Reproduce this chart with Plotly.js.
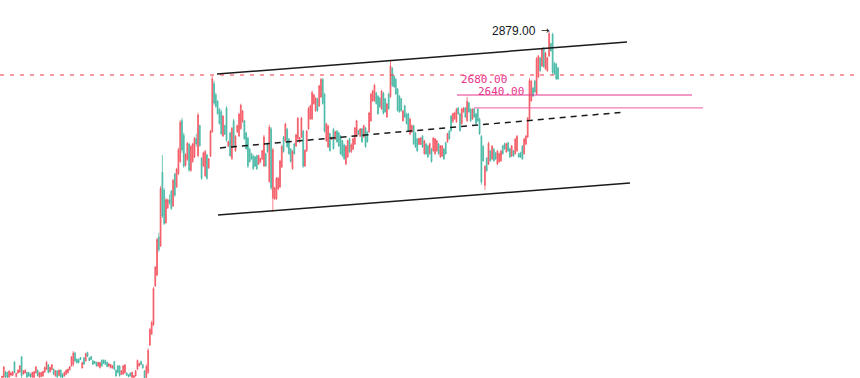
<!DOCTYPE html>
<html>
<head>
<meta charset="utf-8">
<script src="https://cdn.plot.ly/plotly-3.0.1.min.js"></script>
<style>html,body{margin:0;padding:0;background:#fff;}#chart{width:860px;height:378px;}</style>
</head>
<body>
<div id="chart"></div>
<script>
const open = [1804,1806,1822,1820,1806,1812,1811,1852,1807,1818,1822,1868,1815,1818,1820,1820,1815,1806,1805,1819,1827,1806,1807,1809,1821,1830,1843,1822,1829,1830,1809,1825,1811,1827,1815,1809,1814,1819,1828,1841,1845,1880,1861,1860,1866,1834,1865,1856,1882,1865,1869,1856,1854,1851,1840,1835,1858,1858,1857,1851,1840,1834,1834,1853,1827,1840,1840,1814,1815,1819,1818,1812,1818,1805,1804,1809,1830,1840,1854,1844,1825,1805,1820,1905,1940,1968,2088,2122,2240,2212,2440,2385,2284,2330,2355,2382,2336,2435,2395,2436,2474,2600,2555,2462,2480,2528,2446,2474,2488,2545,2492,2585,2484,2460,2430,2494,2454,2490,2566,2715,2680,2660,2635,2628,2553,2585,2640,2521,2562,2483,2600,2507,2565,2553,2576,2597,2600,2562,2546,2512,2498,2490,2488,2492,2466,2472,2482,2460,2498,2528,2412,2575,2360,2358,2358,2389,2395,2457,2550,2538,2574,2543,2512,2452,2528,2522,2545,2534,2550,2568,2460,2507,2575,2606,2606,2653,2631,2668,2646,2674,2728,2682,2538,2519,2560,2542,2574,2543,2568,2562,2552,2538,2525,2466,2488,2544,2505,2512,2528,2553,2570,2552,2575,2550,2578,2565,2566,2600,2662,2662,2686,2676,2670,2637,2686,2668,2612,2683,2675,2762,2738,2728,2698,2676,2668,2600,2646,2621,2621,2559,2565,2584,2562,2544,2527,2527,2552,2498,2528,2522,2498,2512,2507,2498,2507,2528,2488,2491,2512,2532,2535,2568,2614,2597,2606,2597,2640,2621,2591,2628,2640,2600,2655,2636,2606,2636,2621,2636,2605,2552,2520,2400,2484,2466,2506,2482,2512,2500,2466,2473,2476,2522,2529,2504,2532,2513,2491,2507,2498,2507,2498,2501,2521,2498,2528,2550,2606,2662,2701,2723,2683,2736,2794,2770,2825,2761,2755,2801,2839,2868,2778,2776,2764];
const high = [1809,1840,1824,1822,1827,1822,1824,1855,1819,1829,1843,1871,1827,1829,1822,1822,1818,1822,1824,1840,1829,1822,1822,1825,1838,1855,1846,1838,1846,1832,1827,1827,1829,1829,1817,1822,1829,1832,1840,1871,1886,1884,1863,1863,1868,1853,1868,1881,1884,1868,1871,1858,1856,1853,1853,1853,1860,1860,1860,1853,1850,1846,1843,1856,1829,1843,1843,1827,1843,1846,1820,1815,1820,1822,1812,1827,1860,1850,1856,1846,1827,1845,1895,1958,1980,2085,2150,2237,2253,2398,2494,2392,2361,2358,2372,2386,2420,2439,2454,2516,2603,2609,2563,2500,2535,2532,2525,2532,2550,2560,2625,2588,2488,2504,2510,2498,2485,2572,2739,2724,2687,2665,2640,2634,2618,2588,2646,2538,2566,2581,2606,2556,2588,2625,2653,2634,2603,2566,2550,2516,2501,2495,2491,2495,2495,2485,2510,2556,2501,2532,2588,2581,2516,2395,2426,2426,2479,2525,2553,2594,2578,2547,2516,2510,2532,2560,2612,2550,2612,2572,2512,2572,2643,2650,2693,2684,2674,2671,2712,2733,2733,2687,2594,2588,2563,2550,2578,2569,2572,2566,2556,2541,2529,2525,2541,2547,2530,2547,2581,2603,2572,2578,2578,2588,2581,2569,2628,2687,2696,2715,2690,2680,2674,2696,2690,2671,2656,2687,2789,2767,2742,2733,2702,2680,2671,2634,2650,2625,2625,2609,2588,2588,2566,2547,2547,2550,2556,2541,2532,2525,2532,2516,2550,2547,2541,2532,2525,2525,2516,2535,2563,2572,2618,2625,2628,2640,2643,2625,2640,2643,2643,2674,2659,2640,2640,2640,2625,2640,2609,2556,2525,2463,2488,2535,2510,2525,2516,2504,2510,2501,2510,2525,2532,2532,2535,2516,2525,2510,2547,2556,2501,2504,2525,2547,2556,2612,2733,2727,2705,2727,2798,2804,2798,2826,2829,2814,2798,2879,2842,2873,2783,2780,2767];
const low = [1803,1803,1803,1803,1803,1808,1809,1817,1805,1817,1819,1803,1814,1817,1803,1807,1804,1803,1803,1817,1807,1803,1805,1807,1819,1827,1817,1820,1827,1812,1807,1803,1809,1803,1803,1807,1812,1817,1826,1838,1838,1853,1848,1848,1858,1832,1843,1853,1868,1855,1858,1843,1846,1838,1838,1832,1838,1846,1843,1836,1836,1832,1832,1827,1807,1817,1807,1812,1812,1817,1809,1805,1807,1803,1803,1807,1827,1838,1843,1832,1800,1800,1815,1902,1936,1964,2085,2119,2194,2209,2299,2277,2281,2327,2340,2324,2333,2364,2392,2432,2470,2501,2454,2458,2476,2442,2442,2470,2485,2520,2488,2519,2417,2457,2426,2417,2451,2488,2563,2650,2640,2619,2588,2556,2550,2556,2535,2519,2488,2479,2516,2504,2563,2550,2572,2594,2541,2510,2454,2470,2479,2448,2457,2448,2463,2470,2479,2457,2457,2501,2408,2386,2318,2355,2355,2386,2392,2454,2501,2535,2516,2495,2470,2448,2495,2519,2541,2532,2547,2454,2457,2504,2572,2603,2603,2650,2628,2628,2643,2671,2650,2563,2535,2516,2504,2541,2510,2541,2532,2519,2495,2488,2479,2463,2485,2501,2500,2510,2525,2550,2556,2550,2532,2547,2516,2532,2563,2597,2659,2659,2650,2619,2640,2634,2619,2625,2609,2634,2671,2705,2702,2680,2628,2625,2628,2597,2609,2588,2566,2556,2563,2525,2516,2504,2525,2525,2516,2495,2495,2485,2495,2470,2504,2495,2504,2495,2485,2488,2479,2495,2532,2541,2566,2594,2603,2594,2619,2566,2588,2625,2609,2597,2625,2597,2603,2609,2588,2597,2556,2402,2473,2386,2442,2463,2473,2479,2473,2479,2463,2470,2473,2495,2510,2501,2504,2485,2488,2488,2495,2504,2485,2485,2479,2495,2525,2547,2603,2659,2674,2687,2680,2733,2752,2767,2764,2758,2752,2798,2814,2742,2742,2727,2727];
const close = [1808,1836,1806,1805,1824,1818,1822,1820,1817,1827,1840,1810,1825,1827,1806,1809,1806,1820,1822,1837,1810,1819,1820,1823,1835,1852,1820,1835,1844,1814,1825,1806,1827,1806,1805,1820,1827,1830,1838,1868,1880,1856,1850,1851,1860,1850,1846,1878,1870,1857,1860,1845,1848,1840,1851,1850,1840,1848,1845,1838,1846,1844,1841,1830,1809,1820,1810,1825,1840,1843,1811,1807,1809,1820,1810,1825,1857,1848,1845,1834,1803,1838,1888,1953,1975,2080,2146,2232,2200,2390,2305,2282,2355,2355,2345,2328,2415,2370,2450,2510,2595,2510,2460,2495,2530,2448,2520,2528,2545,2528,2618,2524,2422,2500,2505,2422,2482,2568,2730,2655,2645,2622,2592,2560,2614,2559,2540,2535,2492,2576,2520,2552,2585,2620,2648,2630,2545,2514,2460,2474,2482,2452,2460,2451,2492,2483,2507,2550,2460,2504,2580,2392,2510,2392,2422,2422,2475,2520,2505,2590,2520,2498,2474,2505,2498,2556,2608,2548,2608,2460,2508,2568,2638,2646,2688,2680,2670,2632,2708,2728,2654,2568,2590,2584,2508,2549,2514,2566,2535,2522,2498,2492,2482,2520,2538,2504,2525,2544,2578,2600,2558,2575,2535,2585,2520,2535,2624,2682,2692,2710,2654,2622,2644,2692,2624,2628,2652,2638,2770,2710,2706,2684,2632,2628,2632,2630,2612,2592,2570,2605,2585,2529,2519,2507,2545,2547,2519,2538,2498,2488,2529,2474,2546,2544,2538,2498,2522,2522,2482,2498,2560,2544,2570,2622,2625,2636,2622,2570,2636,2640,2612,2660,2628,2600,2636,2612,2592,2600,2560,2410,2476,2458,2446,2530,2476,2521,2476,2482,2506,2498,2506,2498,2513,2529,2507,2488,2522,2491,2543,2552,2488,2488,2482,2543,2552,2608,2725,2722,2677,2690,2792,2800,2756,2822,2768,2810,2795,2870,2817,2750,2746,2730,2730];
const bars = open.map((_, i) => i);

const lastPrice = 2742;
const levelA = 2680;
const levelB = 2640;
const peakHigh = 2879;
const channelUpper = [2745, 2844];
const channelLower = [2308, 2407];
const channelMid = [2516, 2627];

const UP = '#f23645', DOWN = '#22ab94';
const trace = {
  type: 'candlestick', x: bars, open: open, high: high, low: low, close: close,
  increasing: {line: {color: UP, width: 0.7}, fillcolor: 'rgba(242,54,69,0.75)'},
  decreasing: {line: {color: DOWN, width: 0.7}, fillcolor: 'rgba(34,171,148,0.75)'},
  whiskerwidth: 0, hoverinfo: 'skip', showlegend: false, opacity: 0.9
};
const n = open.length;
const s = 556 / (n - 1);
const layout = {
  width: 860, height: 378, margin: {l: 0, r: 0, t: 0, b: 0},
  paper_bgcolor: '#ffffff', plot_bgcolor: '#ffffff', showlegend: false,
  xaxis: {range: [-2 / s, (n - 1) + 302 / s], visible: false, rangeslider: {visible: false}, fixedrange: true},
  yaxis: {range: [1802.7, 2974.5], visible: false, fixedrange: true},
  shapes: [
    {type: 'line', xref: 'paper', yref: 'y', x0: 0, x1: 1, y0: lastPrice, y1: lastPrice, line: {color: '#f23645', width: 1, dash: '4px,6px'}},
    {type: 'line', xref: 'paper', yref: 'y', x0: 217/860, x1: 627/860, y0: channelUpper[0], y1: channelUpper[1], line: {color: '#1a1a1a', width: 1.5}},
    {type: 'line', xref: 'paper', yref: 'y', x0: 218/860, x1: 630/860, y0: channelLower[0], y1: channelLower[1], line: {color: '#1a1a1a', width: 1.5}},
    {type: 'line', xref: 'paper', yref: 'y', x0: 220/860, x1: 624/860, y0: channelMid[0], y1: channelMid[1], line: {color: '#1a1a1a', width: 1.5, dash: '6px,5px'}},
    {type: 'line', xref: 'paper', yref: 'y', x0: 457/860, x1: 692/860, y0: levelA, y1: levelA, line: {color: '#e6338c', width: 1}},
    {type: 'line', xref: 'paper', yref: 'y', x0: 474/860, x1: 703/860, y0: levelB, y1: levelB, line: {color: '#f05aa5', width: 1}}
  ],
  annotations: [
    {xref: 'paper', yref: 'y', x: 459/860, y: levelA, yshift: 16, xanchor: 'left', yanchor: 'middle', showarrow: false,
     text: levelA.toFixed(2), font: {family: 'DejaVu Sans Mono', size: 11, color: '#e6338c'}},
    {xref: 'paper', yref: 'y', x: 476/860, y: levelB, yshift: 16, xanchor: 'left', yanchor: 'middle', showarrow: false,
     text: levelB.toFixed(2), font: {family: 'DejaVu Sans Mono', size: 11, color: '#e6338c'}},
    {xref: 'paper', yref: 'y', x: 490/860, y: peakHigh, xanchor: 'left', yanchor: 'middle', showarrow: false,
     text: peakHigh.toFixed(2), font: {family: 'Liberation Sans, Arial', size: 12, color: '#131722'}},
    {xref: 'paper', yref: 'y', x: 539/860, y: peakHigh, xanchor: 'left', yanchor: 'middle', showarrow: false,
     text: '\u2192', font: {family: 'DejaVu Sans', size: 10, color: '#131722'}}
  ]
};
Plotly.newPlot('chart', [trace], layout, {displayModeBar: false, staticPlot: true});
</script>
</body>
</html>
